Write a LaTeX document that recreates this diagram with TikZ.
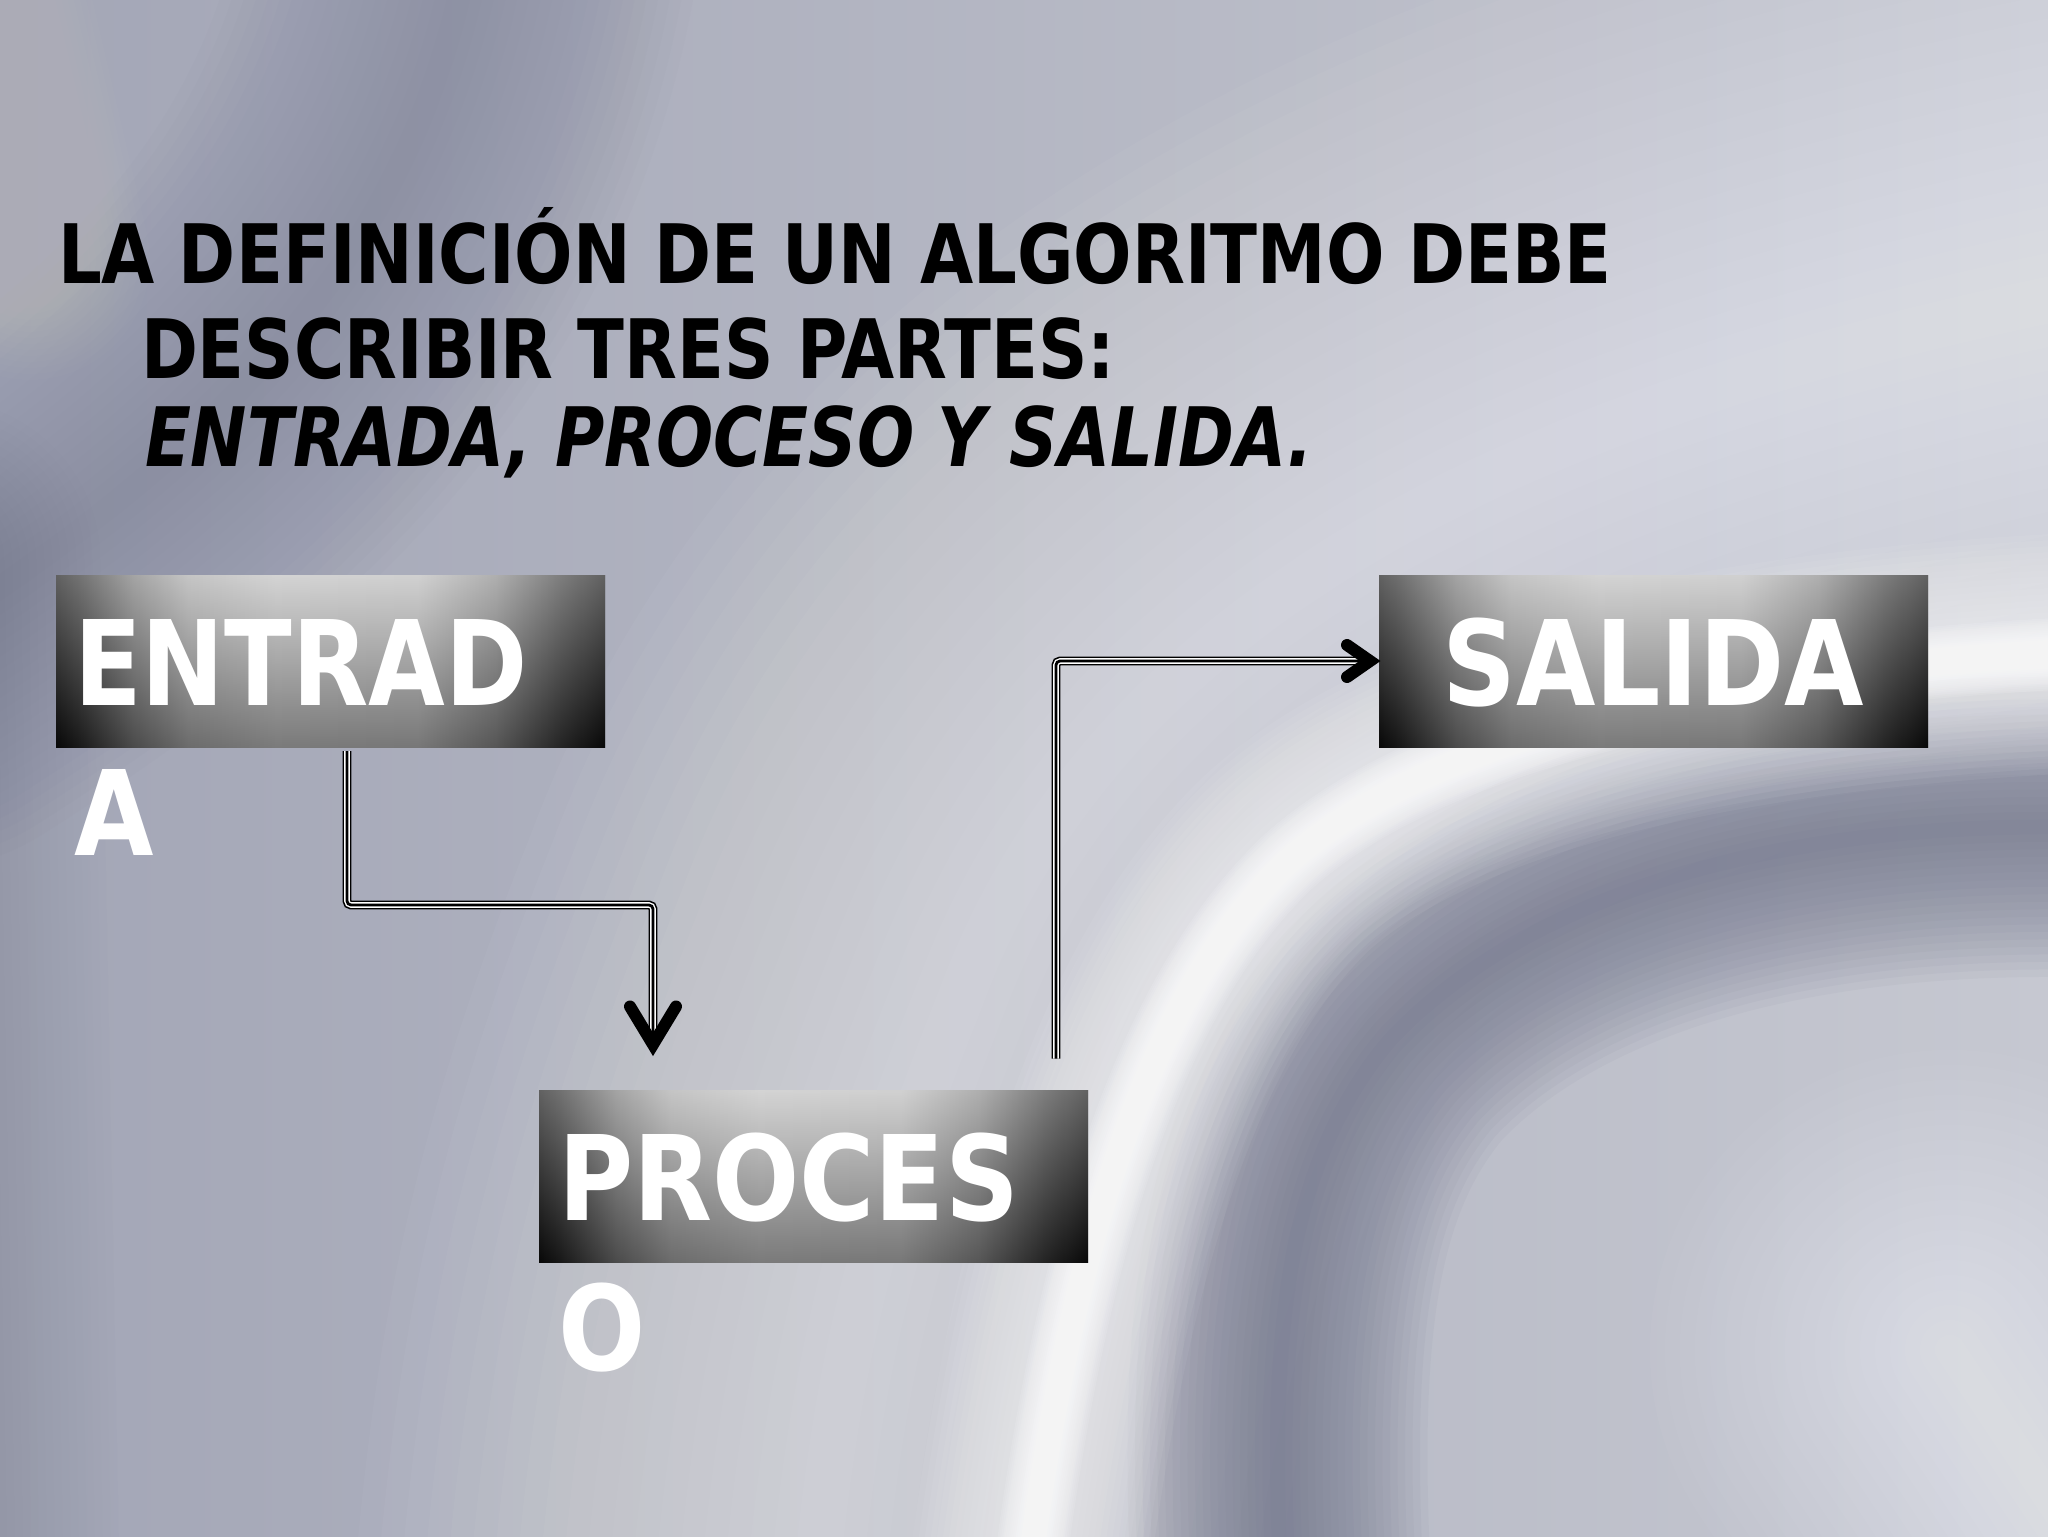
\documentclass[tikz,border=0pt]{standalone}
\usepackage{fontspec}
\usepackage{graphicx}
\newfontfamily\dvs{DejaVu Sans}
\usetikzlibrary{calc}
\definecolor{bgL}{HTML}{A3A6B6}
\definecolor{bgR}{HTML}{C6C8D1}
\definecolor{darkb}{HTML}{70748A}
\pgfdeclarehorizontalshading{boxshade}{100bp}{color(0bp)=(black!95); color(25bp)=(black!95); color(27bp)=(black!85); color(32bp)=(black!55); color(37bp)=(black!35); color(45bp)=(black!26); color(58bp)=(black!28); color(65bp)=(black!48); color(71bp)=(black!78); color(75bp)=(black!95); color(100bp)=(black!95)}
\newcommand\softline[4]{\foreach \k in {1,...,20}{\draw[draw=#1, line width={#2*\k/20}, draw opacity=#3, line cap=round, line join=round] #4;}}
\newcommand\sqz[2][0.87]{\scalebox{#1}[1]{#2}}
\tikzset{
  stagebox/.style={rectangle, inner sep=0pt, outer sep=0pt, minimum width=274.5pt, minimum height=86pt, shade, shading=boxshade, postaction={top color=white, bottom color=black, fill opacity=0.35}},
  boxlabel/.style={text=white, inner sep=0pt, outer sep=0pt, align=left, font=\dvs\bfseries\fontsize{59}{75}\selectfont},
  titleline/.style={anchor=base west, inner sep=0pt, outer sep=0pt, text=black, font=\dvs\bfseries\fontsize{41}{48}\selectfont},
  conn/.style={draw=black, line width=4.4pt, rounded corners=2pt, postaction={draw=white, line width=2.8pt}, postaction={draw=black, line width=1.4pt}},
  headstroke/.style={draw=black, line width=6pt, line cap=round, line join=miter}
}
\begin{document}
\begin{tikzpicture}[x=0.5pt,y=-0.5pt]
\useasboundingbox (0,0) rectangle (2048,1536);
\begin{scope}
\clip (0,0) rectangle (2048,1536);
\shade[left color=bgL, right color=bgR] (0,0) rectangle (2048,1536);
% top-left dark band
\softline{darkb}{230pt}{0.025}{(470,-60) .. controls (420,250) and (220,450) .. (-80,640)}
% left edge dark
\softline{darkb}{160pt}{0.02}{(-60,560) -- (-40,1600)}
% top-left corner light
\softline{white}{120pt}{0.012}{(-40,-40) -- (30,260)}
% broad light interior
\softline{white}{460pt}{0.03}{(2150,280) .. controls (1500,400) and (1100,620) .. (960,1000) .. controls (860,1250) and (830,1400) .. (810,1650)}
% right dark band
\softline{darkb}{150pt}{0.06}{(2150,830) .. controls (1800,810) and (1530,890) .. (1390,1040) .. controls (1280,1170) and (1265,1350) .. (1285,1650)}
% white arc
\softline{white}{120pt}{0.05}{(2150,650) .. controls (1820,660) and (1460,710) .. (1290,860) .. controls (1140,1000) and (1060,1280) .. (1020,1650)}
\softline{white}{36pt}{0.09}{(2150,650) .. controls (1820,660) and (1460,710) .. (1290,860) .. controls (1140,1000) and (1060,1280) .. (1020,1650)}
% bottom-right light
\softline{white}{300pt}{0.03}{(1950,1350) -- (2150,1650)}
\end{scope}

% title
\node[titleline] (title1) at (58,283) {\resizebox{777pt}{\height}{LA DEFINICIÓN DE UN ALGORITMO DEBE}};
\node[titleline] (title2) at (141,378) {\resizebox{487pt}{\height}{DESCRIBIR TRES PARTES:}};
\node[titleline] (title3) at (145,466) {\resizebox{584pt}{\height}{\itshape ENTRADA, PROCESO Y SALIDA.}};

% boxes
\node[stagebox] (entrada) at (330.5,661) {};
\node[stagebox] (proceso) at (813.5,1176.5) {};
\node[stagebox] (salida) at (1653.5,661) {};

\node[boxlabel, anchor=north west] (entradatxt) at (74,619) {\sqz[0.84]{ENTRAD}\\\sqz{A}};
\node[boxlabel, anchor=north west] (procesotxt) at (558,1133) {\sqz{PROCES}\\\sqz{O}};
\node[boxlabel, anchor=base] (salidatxt) at (1653,705) {\sqz{SALIDA}};

% connectors
\coordinate (p1) at ($(entrada.south west)+(291,4)$);
\coordinate (t1) at ($(proceso.north west)+(114,-46)$);
\draw[conn] (p1) -- ++(0,154) -| (t1);
\draw[headstroke] ($(t1)+(-23,-38)$) -- (t1) -- ($(t1)+(23,-38)$);

\coordinate (p2) at ($(proceso.north east)+(-32,-32)$);
\coordinate (t2) at ($(salida.west)+(-9,0)$);
\draw[conn] (p2) |- (t2);
\draw[headstroke] ($(t2)+(-23,-16)$) -- (t2) -- ($(t2)+(-23,16)$);
\end{tikzpicture}
\end{document}
